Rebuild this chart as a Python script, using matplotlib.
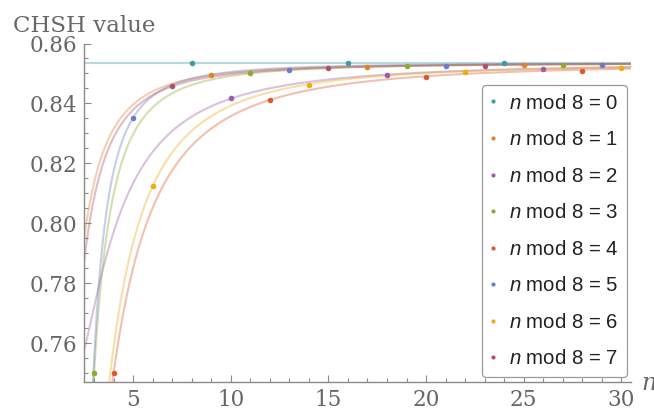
import numpy as np
import matplotlib
matplotlib.use('Agg')
import matplotlib.pyplot as plt
from matplotlib.lines import Line2D

plt.rcParams['mathtext.fontset'] = 'custom'
plt.rcParams['mathtext.it'] = 'Liberation Sans:italic'
plt.rcParams['mathtext.rm'] = 'Liberation Sans'

# data: CHSH value for each n, grouped by n mod 8
n_vals = np.arange(3, 31)
chsh = np.array([0.7500, 0.7500, 0.8353, 0.8125, 0.8458, 0.8536, 0.8495, 0.8417,
                 0.8502, 0.8413, 0.8513, 0.8462, 0.8517, 0.8536, 0.8522, 0.8495,
                 0.8524, 0.8489, 0.8525, 0.8504, 0.8526, 0.8536, 0.8527, 0.8514,
                 0.8528, 0.8509, 0.8529, 0.8517])

# shape of the fitted curve per class: angle = pi/4 + sign*C/(n - shift)
curve_sign = [0, 1, -1, 1, 1, 1, 1, 1]
curve_shift = [0, 0, 0, 1.08, -0.45, 1.42, 0, 0]

colors = ['#3e9ba4', '#e0832a', '#a05ca8', '#8cab2c', '#df5731', '#6b7cc9', '#eeab12', '#b2506f']
labels = [r'$n$ mod 8 = %d' % r for r in range(8)]


def model(n, sign, C, shift):
    th = np.pi/4 + sign*np.radians(C)/(n - shift)
    return 0.5 + (3*np.cos(th) - np.cos(3*th))/8


def fit_C(n, v, sign, shift):
    if sign == 0:
        return 0.0
    Cs = np.linspace(0, 200, 4001)
    err = [np.sum((model(n, sign, C, shift) - v)**2) for C in Cs]
    return Cs[int(np.argmin(err))]


fig = plt.figure(figsize=(6.54, 4.13), dpi=100)
ax = fig.add_axes([84.3/654, 1-381.7/413, (631.1-84.3)/654, (381.7-43.5)/413])

nn = np.linspace(2.5, 30.5, 800)
for r in range(8):
    m = (n_vals % 8) == r
    C = fit_C(n_vals[m].astype(float), chsh[m], curve_sign[r], curve_shift[r])
    curve = model(nn, curve_sign[r], C, curve_shift[r])
    ax.plot(nn, curve, color=colors[r], alpha=0.38, lw=1.5, zorder=2)
    ax.plot(n_vals[m], chsh[m], 'o', color=colors[r], ms=4, mew=0, zorder=3)

ax.set_xlim(2.5, 30.5)
ax.set_ylim(0.7472, 0.86)
ax.set_xticks([5, 10, 15, 20, 25, 30])
ax.set_xticks(np.arange(3, 31), minor=True)
ax.set_yticks([0.76, 0.78, 0.80, 0.82, 0.84, 0.86])
ax.set_yticks(np.arange(0.75, 0.8601, 0.005), minor=True)
ax.set_yticklabels(['0.76', '0.78', '0.80', '0.82', '0.84', '0.86'])

for s in ['top', 'right']:
    ax.spines[s].set_visible(False)
for s in ['left', 'bottom']:
    ax.spines[s].set_color('#8a8a8a')
    ax.spines[s].set_linewidth(1.0)
ax.tick_params(which='both', direction='in', color='#8a8a8a', labelcolor='#666666',
               labelsize=15.5, width=0.8)
ax.tick_params(which='major', length=5, pad=5)
ax.tick_params(which='minor', length=3)
for t in ax.get_xticklabels() + ax.get_yticklabels():
    t.set_family('DejaVu Serif')

fig.text(13/654, 1-32/413, 'CHSH value', family='DejaVu Serif', fontsize=16.5,
         color='#666666', va='baseline', ha='left')
fig.text(641/654, 1-383/413, 'n', family='DejaVu Serif', style='italic', fontsize=17,
         color='#666666', va='center', ha='left')

handles = [Line2D([], [], ls='none', marker='o', ms=3, mew=0, color=c) for c in colors]
leg = fig.legend(handles, labels, loc='upper left', bbox_to_anchor=(482.3/654, 1-85/413),
                 borderaxespad=0, frameon=True, fancybox=True,
                 handlelength=0.2, handletextpad=0.7, labelspacing=0.86,
                 borderpad=0.42, prop={'family': 'Liberation Sans', 'size': 14.7})
leg.get_frame().set_edgecolor('#999999')
leg.get_frame().set_linewidth(0.9)
leg.get_frame().set_alpha(1)
for t in leg.get_texts():
    t.set_color('#222222')

plt.savefig('out.png', dpi=100)
